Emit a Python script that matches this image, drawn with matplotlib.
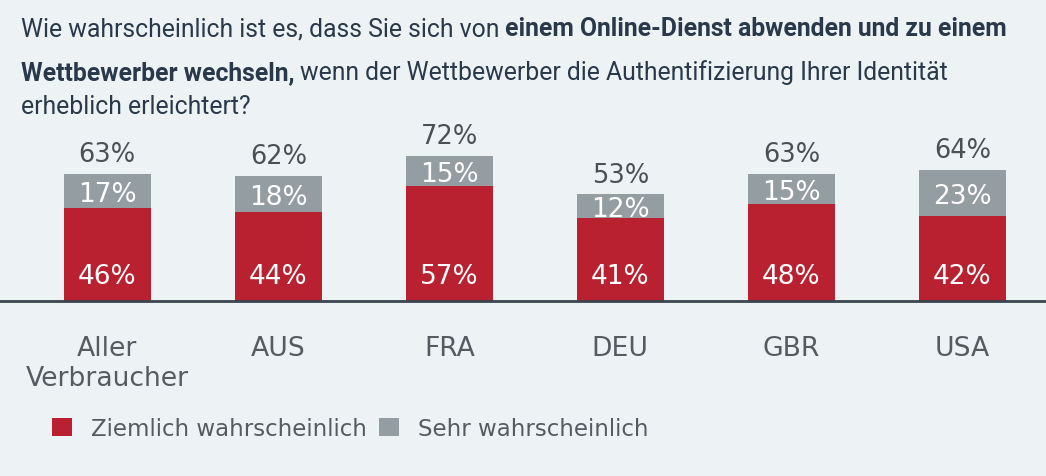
import matplotlib
matplotlib.use("Agg")
import matplotlib.pyplot as plt
from matplotlib.patches import Patch
from matplotlib.transforms import blended_transform_factory

# ---- data ----
categories = ["Aller\nVerbraucher", "AUS", "FRA", "DEU", "GBR", "USA"]
ziemlich = [46, 44, 57, 41, 48, 42]       # Ziemlich wahrscheinlich
sehr = [17, 18, 15, 12, 15, 23]           # Sehr wahrscheinlich
totals = [63, 62, 72, 53, 63, 64]
series_names = ["Ziemlich wahrscheinlich", "Sehr wahrscheinlich"]

title_lines = [
    [("Wie wahrscheinlich ist es, dass Sie sich von", "normal"),
     ("einem Online-Dienst abwenden und zu einem", "bold")],
    [("Wettbewerber wechseln,", "bold"),
     ("wenn der Wettbewerber die Authentifizierung Ihrer Identität", "normal")],
    [("erheblich erleichtert?", "normal")],
]

# ---- style ----
BG = "#edf2f5"
RED = "#b92130"
GRAY = "#939da2"
TITLE_C = "#29394a"
LABEL_C = "#555b61"
TOTAL_C = "#4a5056"
W, H = 1046, 477
PX_PER_UNIT = 2.01
BASE_PX = 301.7
TOP_PX = 120
NUM_FONT = "DejaVu Sans"
NUM_WEIGHT = "normal"

fig = plt.figure(figsize=(W / 100, H / 100), dpi=100, facecolor=BG)
ax = fig.add_axes([0, 1 - BASE_PX / H, 1, (BASE_PX - TOP_PX) / H])
ax.set_facecolor(BG)
ax.set_xlim(-0.6275, 5.489)
ax.set_ylim(0, (BASE_PX - TOP_PX) / PX_PER_UNIT)
for s in ax.spines.values():
    s.set_visible(False)
ax.set_xticks([])
ax.set_yticks([])

x = list(range(len(categories)))
bw = 0.506
ax.bar(x, ziemlich, width=bw, color=RED, zorder=2)
ax.bar(x, sehr, width=bw, bottom=ziemlich, color=GRAY, zorder=2)
ax.axhline(0, color="#3a4550", lw=2, zorder=3, clip_on=False)

for xi, r, g, t in zip(x, ziemlich, sehr, totals):
    ax.text(xi, 8.6, f"{r}%", ha="center", va="baseline", color="white",
            fontsize=19, family=NUM_FONT, fontweight=NUM_WEIGHT, zorder=4)
    ax.text(xi, r + g / 2 - 5.0, f"{g}%", ha="center", va="baseline",
            color="white", fontsize=19, family=NUM_FONT, fontweight=NUM_WEIGHT,
            zorder=4)
    ax.text(xi, r + g + 6.3, f"{t}%", ha="center", va="baseline",
            color=TOTAL_C, fontsize=18.5, family=NUM_FONT, fontweight=NUM_WEIGHT,
            zorder=4, clip_on=False)

# category labels (each line placed on its own baseline)
tr = blended_transform_factory(ax.transData, fig.transFigure)
for xi, c in zip(x, categories):
    for i, part in enumerate(c.split("\n")):
        ax.text(xi, 1 - (356 + 30 * i) / H, part, transform=tr, ha="center",
                va="baseline", color=LABEL_C, fontsize=19.2, family=NUM_FONT,
                fontweight=NUM_WEIGHT)

# legend
handles = [Patch(facecolor=RED, edgecolor="none"),
           Patch(facecolor=GRAY, edgecolor="none")]
leg = fig.legend(handles, series_names, loc="center left",
                 bbox_to_anchor=(51.7 / W, 1 - 429.5 / H),
                 frameon=False, ncol=2, borderpad=0, borderaxespad=0,
                 handlelength=0.87, handleheight=0.87, handletextpad=0.83,
                 columnspacing=0.55,
                 prop={"family": NUM_FONT, "size": 16.5, "weight": NUM_WEIGHT})
for t in leg.get_texts():
    t.set_color(LABEL_C)

# title with mixed weights
TSIZE = 17.8
renderer = fig.canvas.get_renderer()
def text_w(s, weight):
    t = fig.text(0, 0, s, fontsize=TSIZE, family="Roboto", fontweight=weight)
    w = t.get_window_extent(renderer).width
    t.remove()
    return w
space_w = text_w("a a", "normal") - text_w("aa", "normal")
baselines = [36, 80, 113.5]
for line, bl in zip(title_lines, baselines):
    xp = 20.7
    for s, weight in line:
        t = fig.text(xp / W, 1 - bl / H, s, fontsize=TSIZE, family="Roboto",
                     fontweight=weight, color=TITLE_C, va="baseline", ha="left")
        xp += t.get_window_extent(renderer).width + space_w

fig.savefig("out.png", dpi=100, facecolor=BG)
